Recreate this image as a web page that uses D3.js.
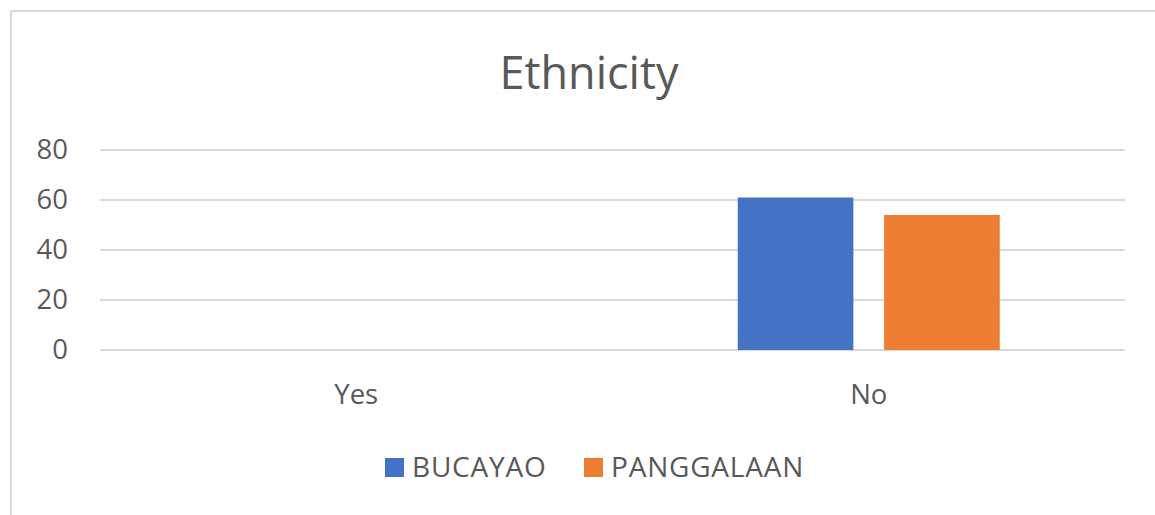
<!DOCTYPE html>
<html>
<head>
<meta charset="utf-8">
<script src="https://cdn.jsdelivr.net/npm/d3@7"></script>
<style>
  body { margin: 0; background: #fff; }
  text { font-family: "Open Sans", "Noto Sans", sans-serif; fill: #595959; }
</style>
</head>
<body>
<svg id="svg" width="1155" height="515"></svg>
<script>
// chart data
const categories = ['Yes', 'No'];
const seriesNames = ['BUCAYAO', 'PANGGALAAN'];
const bucayao = [0, 61];
const panggalaan = [0, 54];
const yTicks = [0, 20, 40, 60, 80];
const colors = ['#4472C4', '#ED7D31'];

const rows = categories.map((c, i) => ({cat: c, values: [bucayao[i], panggalaan[i]]}));

const svg = d3.select('#svg');
const plot = {left: 100, right: 1125, top: 150, bottom: 350};

// outer frame (only left + top edges show in the crop)
svg.append('path')
  .attr('d', 'M11,515 L11,11 L1155,11')
  .attr('fill', 'none')
  .attr('stroke', '#d9d9d9')
  .attr('stroke-width', 2);

svg.append('text')
  .attr('x', 589).attr('y', 89)
  .attr('text-anchor', 'middle')
  .style('font-size', '45px')
  .text('Ethnicity');

const x0 = d3.scaleBand().domain(categories).range([plot.left, plot.right]);
const groupW = 262;
const x1 = d3.scaleBand().domain(seriesNames).range([0, groupW]).paddingInner(0.21);
const y = d3.scaleLinear().domain([0, 80]).range([plot.bottom, plot.top]);

// gridlines
svg.append('g').selectAll('line')
  .data(yTicks).enter().append('line')
  .attr('x1', plot.left).attr('x2', plot.right)
  .attr('y1', d => y(d)).attr('y2', d => y(d))
  .attr('stroke', '#d9d9d9').attr('stroke-width', 2);

// y labels
svg.append('g').selectAll('text')
  .data(yTicks).enter().append('text')
  .attr('x', 68).attr('y', d => y(d) + 9)
  .attr('text-anchor', 'end')
  .style('font-size', '27.5px')
  .text(d => d);

// bars
const groups = svg.append('g').selectAll('g')
  .data(rows).enter().append('g')
  .attr('transform', d => `translate(${x0(d.cat) + x0.bandwidth() / 2 - groupW / 2},0)`);

groups.selectAll('rect')
  .data(d => d.values.map((v, i) => ({name: seriesNames[i], v: v, i: i})))
  .enter().append('rect')
  .attr('x', d => x1(d.name))
  .attr('width', x1.bandwidth())
  .attr('y', d => y(d.v))
  .attr('height', d => y(0) - y(d.v))
  .attr('fill', d => colors[d.i]);

// category labels
svg.append('g').selectAll('text')
  .data(categories).enter().append('text')
  .attr('x', d => x0(d) + x0.bandwidth() / 2)
  .attr('y', 404)
  .attr('text-anchor', 'middle')
  .style('font-size', '27.5px')
  .text(d => d);

// legend
const legendX = [385, 584];
const legend = svg.append('g').selectAll('g')
  .data(seriesNames).enter().append('g')
  .attr('transform', (d, i) => `translate(${legendX[i]},458)`);
legend.append('rect')
  .attr('width', 19).attr('height', 19)
  .attr('fill', (d, i) => colors[i]);
legend.append('text')
  .attr('x', 27).attr('y', 19)
  .style('font-size', '28px')
  .style('letter-spacing', '0.8px')
  .text(d => d);
</script>
</body>
</html>
